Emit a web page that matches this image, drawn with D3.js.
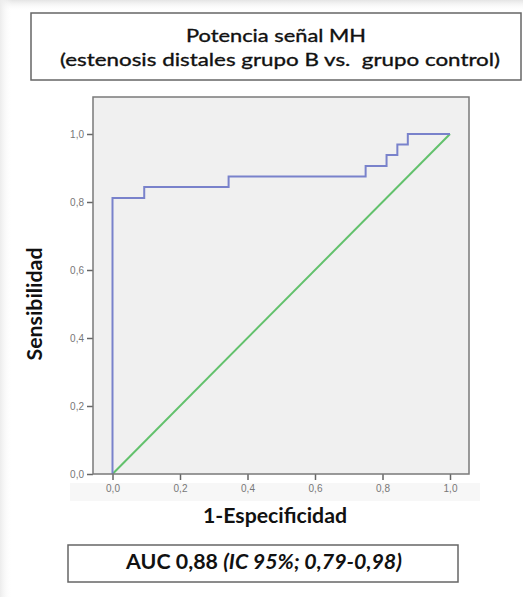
<!DOCTYPE html>
<html>
<head>
<meta charset="utf-8">
<script src="https://cdn.jsdelivr.net/npm/d3@7"></script>
<style>
  html, body { margin: 0; padding: 0; background: #fff; }
  svg { display: block; }
</style>
</head>
<body>
<svg id="chart" width="523" height="597"></svg>
<script>
// ROC curve: false positive rate (1-specificity) vs sensitivity
const fpr  = [0, 0, 0.094, 0.344, 0.75, 0.812, 0.844, 0.875, 1.0];
const sens = [0, 0.812, 0.844, 0.875, 0.906, 0.938, 0.969, 1.0, 1.0];
const refLine = [0, 1];
const tickValues = [0, 0.2, 0.4, 0.6, 0.8, 1.0];
const titleLines = ["Potencia señal MH", "(estenosis distales grupo B vs.\u00a0 grupo control)"];
const xTitle = "1-Especificidad";
const yTitle = "Sensibilidad";
const aucMain = "AUC 0,88 ";
const aucCI = "(IC 95%; 0,79-0,98)";

const svg = d3.select("#chart");
const font = "Lato, 'Open Sans', sans-serif";

// soft edge shading along top and left
const defs = svg.append("defs");
const gTop = defs.append("linearGradient").attr("id", "shTop").attr("x1", 0).attr("y1", 0).attr("x2", 0).attr("y2", 1);
gTop.append("stop").attr("offset", "0%").attr("stop-color", "#e4e4e4");
gTop.append("stop").attr("offset", "100%").attr("stop-color", "#ffffff").attr("stop-opacity", 0);
const gLeft = defs.append("linearGradient").attr("id", "shLeft").attr("x1", 0).attr("y1", 0).attr("x2", 1).attr("y2", 0);
gLeft.append("stop").attr("offset", "0%").attr("stop-color", "#ececec");
gLeft.append("stop").attr("offset", "100%").attr("stop-color", "#ffffff").attr("stop-opacity", 0);
svg.append("rect").attr("x", 0).attr("y", 0).attr("width", 523).attr("height", 11).attr("fill", "url(#shTop)");
svg.append("rect").attr("x", 0).attr("y", 0).attr("width", 12).attr("height", 597).attr("fill", "url(#shLeft)");

// scale a text element's font size so it spans the given width
function fitWidth(sel, w) {
  const node = sel.node();
  const fs = parseFloat(sel.attr("font-size"));
  const len = node.getComputedTextLength();
  sel.attr("font-size", (fs * w / len).toFixed(2));
}

// title box
svg.append("rect").attr("x", 31).attr("y", 13).attr("width", 490).attr("height", 67)
  .attr("fill", "#fff").attr("stroke", "#666").attr("stroke-width", 1.5);
[[titleLines[0], 42, 180, 276], [titleLines[1], 66, 440, 280]].forEach(([txt, yy, w, cx]) => {
  svg.append("text").attr("x", cx).attr("y", yy).attr("text-anchor", "middle")
    .attr("font-family", font).attr("font-size", 18).attr("fill", "#111")
    .attr("stroke", "#111").attr("stroke-width", 0.35)
    .attr("textLength", w).attr("lengthAdjust", "spacingAndGlyphs")
    .text(txt);
});

// plot area
const x = d3.scaleLinear().domain([0, 1]).range([112.5, 450]);
const y = d3.scaleLinear().domain([0, 1]).range([474, 134]);
const frame = { x0: 93, x1: 469, y0: 97, y1: 474 };

// strip behind x tick labels
svg.append("rect").attr("x", 70).attr("y", 483).attr("width", 410).attr("height", 18).attr("fill", "#f7f7f7");

svg.append("rect").attr("x", frame.x0).attr("y", frame.y0)
  .attr("width", frame.x1 - frame.x0).attr("height", frame.y1 - frame.y0)
  .attr("fill", "#f0f0f0");

const fmt = d => d3.format(".1f")(d).replace(".", ",");

const yAxis = svg.append("g").attr("transform", `translate(${frame.x0},0)`)
  .call(d3.axisLeft(y).tickValues(tickValues).tickFormat(fmt).tickSize(6).tickPadding(3));
const xAxis = svg.append("g").attr("transform", `translate(0,${frame.y1})`)
  .call(d3.axisBottom(x).tickValues(tickValues).tickFormat(fmt).tickSize(6).tickPadding(5));
[yAxis, xAxis].forEach(a => {
  a.select(".domain").remove();
  a.selectAll(".tick line").attr("stroke", "#666").attr("stroke-width", 1.5);
  a.selectAll(".tick text").attr("fill", "#777").attr("font-family", "'Liberation Sans', Arial, sans-serif")
    .attr("font-size", 10);
});

// reference diagonal
svg.append("line")
  .attr("x1", x(refLine[0])).attr("y1", y(refLine[0]))
  .attr("x2", x(refLine[1])).attr("y2", y(refLine[1]))
  .attr("stroke", "#62c16c").attr("stroke-width", 2);

// ROC step curve
const pts = fpr.map((f, i) => [f, sens[i]]);
svg.append("path").datum(pts)
  .attr("d", d3.line().x(d => x(d[0])).y(d => y(d[1])).curve(d3.curveStepAfter))
  .attr("fill", "none").attr("stroke", "#7982cb").attr("stroke-width", 2);

// frame border
svg.append("rect").attr("x", frame.x0).attr("y", frame.y0)
  .attr("width", frame.x1 - frame.x0).attr("height", frame.y1 - frame.y0)
  .attr("fill", "none").attr("stroke", "#7a7a7a").attr("stroke-width", 1.5);

// axis titles
const xt = svg.append("text").attr("x", 275).attr("y", 523).attr("text-anchor", "middle")
  .attr("font-family", font).attr("font-weight", "bold").attr("font-size", 18).attr("fill", "#111").text(xTitle);
fitWidth(xt, 144);
const yt = svg.append("text").attr("transform", "translate(42,304) rotate(-90)").attr("text-anchor", "middle")
  .attr("font-family", font).attr("font-weight", "bold").attr("font-size", 18).attr("fill", "#111").text(yTitle);
fitWidth(yt, 113);

// AUC box
svg.append("rect").attr("x", 68).attr("y", 545).attr("width", 390).attr("height", 37)
  .attr("fill", "#fff").attr("stroke", "#666").attr("stroke-width", 1.5);
const auc = svg.append("text").attr("x", 264).attr("y", 569).attr("text-anchor", "middle")
  .attr("font-family", font).attr("font-size", 18).attr("fill", "#111");
auc.append("tspan").attr("font-weight", "bold").text(aucMain);
auc.append("tspan").attr("font-weight", "bold").attr("font-style", "italic").text(aucCI);
fitWidth(auc, 276);
</script>
</body>
</html>
